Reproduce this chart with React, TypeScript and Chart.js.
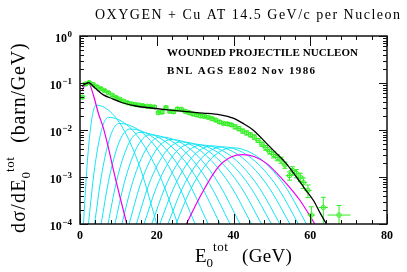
import React, { useEffect, useRef } from 'react';
import { Chart, registerables } from 'chart.js';

Chart.register(...registerables);

const SERIF = '"Liberation Serif", "Times New Roman", serif';
const GREEN = 'rgb(50,238,35)';
const CYAN = 'rgb(20,228,245)';
const MAGENTA = 'rgb(235,0,235)';
const AXIS = '#111';

const titleText = 'OXYGEN + Cu AT 14.5 GeV/c per Nucleon';
const legendLine1 = 'WOUNDED PROJECTILE NUCLEON';
const legendLine2 = 'BNL AGS E802 Nov 1986';
const xTickValues = [0, 20, 40, 60, 80];
const xMinorStep = 4;
const yTickExponents = [0, -1, -2, -3, -4];

// measured spectrum (E0tot in GeV, dσ/dE in barn/GeV)
const dataE = [
  0.6, 1.4, 2.4, 3.4, 4.4, 5.4, 6.4, 7.4, 8.4, 9.4, 10.4, 11.4, 12.4, 13.4, 14.4, 15.4,
  16.4, 17.4, 18.4, 19.4, 20.4, 21.4, 22.4, 23.4, 24.4, 25.4, 26.4, 27.4, 28.4, 29.4,
  30.4, 31.4, 32.4, 33.4, 34.4, 35.4, 36.4, 37.4, 38.4, 39.4, 40.4, 41.4, 42.4, 43.4,
  44.4, 45.4, 46.4, 47.4, 48.4, 49.4, 50.4, 51.4, 52.4, 53.4, 54.6, 55.4, 56.4, 57.4,
  58.2, 59.4, 60.3, 63.4, 67.5,
];
const dataSigma = [
  0.05, 0.095, 0.102, 0.093, 0.083, 0.076, 0.069, 0.062, 0.055, 0.049, 0.045, 0.041, 0.038,
  0.036, 0.035, 0.034, 0.033, 0.032, 0.0316, 0.0309, 0.0234, 0.024, 0.03, 0.025, 0.0245,
  0.028, 0.0275, 0.025, 0.0234, 0.0219, 0.0209, 0.02, 0.0195, 0.0186, 0.0174, 0.0162,
  0.0148, 0.0138, 0.0135, 0.0129, 0.0117, 0.0107, 0.0095, 0.0087, 0.0079, 0.0071, 0.006,
  0.005, 0.0042, 0.0035, 0.003, 0.0026, 0.0023, 0.0018, 0.00107, 0.00138, 0.0012, 0.001,
  0.00076, 0.00052, 0.000155, 0.000224, 0.000155,
];
const dataRelErr = [
  0.06, 0.06, 0.06, 0.06, 0.06, 0.06, 0.06, 0.06, 0.06, 0.06, 0.06, 0.06, 0.06, 0.06, 0.06,
  0.06, 0.06, 0.06, 0.06, 0.06, 0.07, 0.07, 0.07, 0.07, 0.07, 0.07, 0.07, 0.07, 0.07, 0.07,
  0.07, 0.07, 0.07, 0.07, 0.07, 0.07, 0.07, 0.07, 0.07, 0.07, 0.1, 0.1, 0.1, 0.1, 0.1, 0.1,
  0.1, 0.1, 0.12, 0.12, 0.15, 0.15, 0.15, 0.15, 0.2, 0.2, 0.2, 0.2, 0.25, 0.3, 0.5, 0.65, 0.6,
];
const dataEErr = [
  0.5, 0.5, 0.5, 0.5, 0.5, 0.5, 0.5, 0.5, 0.5, 0.5, 0.5, 0.5, 0.5, 0.5, 0.5, 0.5, 0.5, 0.5,
  0.5, 0.5, 0.5, 0.5, 0.5, 0.5, 0.5, 0.5, 0.5, 0.5, 0.5, 0.5, 0.5, 0.5, 0.5, 0.5, 0.5, 0.5,
  0.5, 0.5, 0.5, 0.5, 0.6, 0.6, 0.6, 0.6, 0.7, 0.7, 0.8, 0.8, 0.9, 0.9, 0.9, 0.9, 0.9, 0.9,
  1.0, 1.0, 1.0, 1.0, 1.0, 1.0, 1.0, 1.2, 3.0,
];

// total fit (black)
const totalE = [0.5, 2.2, 3.9, 6.1, 8.5, 11.0, 14.8, 19.1, 23.4, 27.8, 32.1, 36.5, 39.9, 42.5, 45.1, 48.6, 51.0, 53.6, 56.4, 58.6, 60.8, 62.6, 64.2];
const totalSigma = [0.085, 0.102, 0.078, 0.056, 0.046, 0.038, 0.032, 0.029, 0.0266, 0.0245, 0.0229, 0.0209, 0.0178, 0.0138, 0.01, 0.0052, 0.0033, 0.002, 0.001, 0.00056, 0.00032, 0.00017, 0.0001];

// one wounded nucleon (magenta) and sixteen (magenta)
const oneNucleonE = [0.5, 1.3, 2.2, 3.5, 4.8, 6.1, 7.4, 8.7, 10.4, 12.2];
const oneNucleonSigma = [0.068, 0.09, 0.1, 0.055, 0.0224, 0.011, 0.0042, 0.00141, 0.00038, 0.0001];
const sixteenNucleonE = [27.7, 31.7, 36.0, 39.5, 42.4, 45.5, 48.6, 52.9, 57.3, 61.2];
const sixteenNucleonSigma = [0.0001, 0.00044, 0.00162, 0.0027, 0.003, 0.0027, 0.00195, 0.00087, 0.00032, 0.0001];

// n = 2 ... 15 wounded nucleons (cyan)
const cyanE = [
  [0.9, 1.75, 2.55, 3.33, 4.2, 8.39, 12.1, 15.9, 20.0],
  [2.2, 3.54, 4.8, 6.02, 7.4, 12.2, 16.45, 20.83, 25.5],
  [3.8, 5.45, 7.0, 8.5, 10.2, 15.45, 20.1, 24.89, 30.0],
  [5.5, 7.43, 9.25, 11.0, 13.0, 18.41, 23.2, 28.14, 33.4],
  [7.3, 9.44, 11.45, 13.4, 15.6, 21.14, 26.05, 31.11, 36.5],
  [9.1, 11.47, 13.7, 15.86, 18.3, 23.81, 28.7, 33.73, 39.1],
  [10.9, 13.51, 15.95, 18.32, 21.0, 26.49, 31.35, 36.36, 41.7],
  [12.8, 15.61, 18.25, 20.81, 23.7, 29.27, 34.2, 39.28, 44.7],
  [14.7, 17.72, 20.55, 23.3, 26.4, 31.94, 36.85, 41.91, 47.3],
  [16.7, 19.87, 22.85, 25.74, 29.0, 34.54, 39.45, 44.51, 49.9],
  [18.7, 22.05, 25.2, 28.25, 31.7, 37.11, 41.9, 46.84, 52.1],
  [20.8, 24.31, 27.6, 30.8, 34.4, 39.78, 44.55, 49.46, 54.7],
  [22.9, 26.56, 30.0, 33.34, 37.1, 42.35, 47.0, 51.79, 56.9],
  [25.0, 28.79, 32.35, 35.8, 39.7, 44.81, 49.35, 54.02, 59.0],
];
const cyanSigma = [
  [1e-4, 1.38e-3, 7.9e-3, 2.24e-2, 3.39e-2, 2.24e-2, 7.9e-3, 1.38e-3, 1e-4],
  [1e-4, 1.05e-3, 5.0e-3, 1.29e-2, 1.86e-2, 1.29e-2, 5.0e-3, 1.05e-3, 1e-4],
  [1e-4, 9.1e-4, 4.0e-3, 9.8e-3, 1.38e-2, 9.8e-3, 4.0e-3, 9.1e-4, 1e-4],
  [1e-4, 8.1e-4, 3.27e-3, 7.6e-3, 1.05e-2, 7.6e-3, 3.27e-3, 8.1e-4, 1e-4],
  [1e-4, 7.6e-4, 2.9e-3, 6.5e-3, 8.9e-3, 6.5e-3, 2.9e-3, 7.6e-4, 1e-4],
  [1e-4, 7.2e-4, 2.66e-3, 5.85e-3, 7.9e-3, 5.85e-3, 2.66e-3, 7.2e-4, 1e-4],
  [1e-4, 6.8e-4, 2.45e-3, 5.25e-3, 7.1e-3, 5.25e-3, 2.45e-3, 6.8e-4, 1e-4],
  [1e-4, 6.5e-4, 2.24e-3, 4.7e-3, 6.3e-3, 4.7e-3, 2.24e-3, 6.5e-4, 1e-4],
  [1e-4, 6.2e-4, 2.04e-3, 4.25e-3, 5.6e-3, 4.25e-3, 2.04e-3, 6.2e-4, 1e-4],
  [1e-4, 5.9e-4, 1.91e-3, 3.9e-3, 5.1e-3, 3.9e-3, 1.91e-3, 5.9e-4, 1e-4],
  [1e-4, 5.7e-4, 1.82e-3, 3.65e-3, 4.8e-3, 3.65e-3, 1.82e-3, 5.7e-4, 1e-4],
  [1e-4, 5.6e-4, 1.76e-3, 3.5e-3, 4.6e-3, 3.5e-3, 1.76e-3, 5.6e-4, 1e-4],
  [1e-4, 5.5e-4, 1.7e-3, 3.35e-3, 4.4e-3, 3.35e-3, 1.7e-3, 5.5e-4, 1e-4],
  [1e-4, 5.4e-4, 1.64e-3, 3.2e-3, 4.2e-3, 3.2e-3, 1.64e-3, 5.4e-4, 1e-4],
];

const DATA_INDEX = 1;

function toXY(xs: number[], ys: number[]) {
  return xs.map((x, i) => ({ x, y: ys[i] }));
}

// draw text starting at x so that it spans `width` pixels (letter spacing adjusted)
function drawFit(ctx: any, text: string, x: number, width: number, y: number, font: string) {
  ctx.font = font;
  ctx.textAlign = 'left';
  ctx.textBaseline = 'alphabetic';
  ctx.letterSpacing = '0px';
  const w = ctx.measureText(text).width;
  const n = Math.max(1, text.length - 1);
  const ls = (width - w) / n;
  ctx.letterSpacing = `${ls}px`;
  ctx.fillText(text, x, y);
  ctx.letterSpacing = '0px';
}

// draw text with natural spacing plus `ls` px, return the advance
function drawRun(ctx: any, text: string, x: number, y: number, font: string, ls = 0) {
  ctx.font = font;
  ctx.textAlign = 'left';
  ctx.textBaseline = 'alphabetic';
  ctx.letterSpacing = `${ls}px`;
  ctx.fillText(text, x, y);
  const w = ctx.measureText(text).width;
  ctx.letterSpacing = '0px';
  return w;
}

const decorPlugin = {
  id: 'decor',
  beforeDatasetDraw(chart: any, args: any) {
    if (args.index !== DATA_INDEX) return;
    const ctx: CanvasRenderingContext2D = chart.ctx;
    const xs = chart.scales.x;
    const ys = chart.scales.y;
    const a = chart.chartArea;
    ctx.save();
    ctx.beginPath();
    ctx.rect(a.left, a.top, a.right - a.left, a.bottom - a.top);
    ctx.clip();
    ctx.strokeStyle = GREEN;
    ctx.lineWidth = 1;
    for (let i = 0; i < dataE.length; i++) {
      const v = dataSigma[i];
      const err = v * dataRelErr[i];
      const px = xs.getPixelForValue(dataE[i]);
      const py = ys.getPixelForValue(v);
      const pHi = ys.getPixelForValue(v + err);
      const lo = v - err;
      const pLo = lo > 0 ? ys.getPixelForValue(lo) : a.bottom + 5;
      const pxL = xs.getPixelForValue(dataE[i] - dataEErr[i]);
      const pxR = xs.getPixelForValue(dataE[i] + dataEErr[i]);
      ctx.beginPath();
      ctx.moveTo(pxL, py);
      ctx.lineTo(pxR, py);
      ctx.moveTo(px, pHi);
      ctx.lineTo(px, pLo);
      ctx.moveTo(px - 2.5, pHi);
      ctx.lineTo(px + 2.5, pHi);
      ctx.moveTo(px - 2.5, pLo);
      ctx.lineTo(px + 2.5, pLo);
      ctx.stroke();
    }
    ctx.restore();
  },
  afterDraw(chart: any) {
    const ctx: any = chart.ctx;
    const xs = chart.scales.x;
    const ys = chart.scales.y;
    const a = chart.chartArea;
    ctx.save();
    // frame
    ctx.strokeStyle = AXIS;
    ctx.lineWidth = 1.5;
    ctx.strokeRect(a.left, a.top, a.right - a.left, a.bottom - a.top);
    // x ticks
    ctx.lineWidth = 1;
    ctx.beginPath();
    for (let v = xs.min; v <= xs.max + 1e-9; v += xMinorStep) {
      const px = Math.round(xs.getPixelForValue(v)) + 0.5;
      const major = xTickValues.includes(v);
      const len = major ? 10 : 4;
      ctx.moveTo(px, a.bottom);
      ctx.lineTo(px, a.bottom - len);
      ctx.moveTo(px, a.top);
      ctx.lineTo(px, a.top + len);
    }
    // y ticks
    for (let e = -4; e <= 0; e++) {
      for (let m = 1; m <= 9; m++) {
        if (e === 0 && m > 1) break;
        const py = Math.round(ys.getPixelForValue(m * Math.pow(10, e))) + 0.5;
        const len = m === 1 ? 8 : 4;
        ctx.moveTo(a.left, py);
        ctx.lineTo(a.left + len, py);
        ctx.moveTo(a.right, py);
        ctx.lineTo(a.right - len, py);
      }
    }
    ctx.stroke();

    ctx.fillStyle = '#000';
    // x tick labels
    ctx.font = `bold 12px ${SERIF}`;
    ctx.textAlign = 'center';
    ctx.textBaseline = 'alphabetic';
    for (const v of xTickValues) {
      ctx.fillText(String(v), xs.getPixelForValue(v), a.bottom + 15);
    }
    // y tick labels 10^e
    for (const e of yTickExponents) {
      const py = ys.getPixelForValue(Math.pow(10, e));
      const expText = e === 0 ? '0' : '\u2212' + String(-e);
      ctx.font = `bold 9px ${SERIF}`;
      ctx.textAlign = 'right';
      const rx = a.left - 8;
      ctx.fillText(expText, rx, py + 1);
      const ew = ctx.measureText(expText).width;
      ctx.font = `bold 12px ${SERIF}`;
      ctx.fillText('10', rx - ew - 0.5, py + 6);
    }

    // title
    drawFit(ctx, titleText, 95, 305, 19, `14px ${SERIF}`);
    // legend text
    drawFit(ctx, legendLine1, 167, 191, 56, `bold 11px ${SERIF}`);
    drawFit(ctx, legendLine2, 167, 148, 74, `bold 11px ${SERIF}`);

    // x axis title: E0^tot (GeV)
    let cx = 195;
    cx += drawRun(ctx, 'E', cx, 262, `19px ${SERIF}`);
    const w0 = drawRun(ctx, '0', cx, 267, `13px ${SERIF}`);
    drawRun(ctx, 'tot', cx + w0, 251, `13px ${SERIF}`, 0.5);
    drawRun(ctx, '(GeV)', 242, 262, `19px ${SERIF}`, 0.3);

    // y axis title (rotated), positions measured from bottom end
    ctx.translate(25, 233);
    ctx.rotate(-Math.PI / 2);
    let t = 0;
    t += drawRun(ctx, 'd\u03c3/dE', t, 0, `20px ${SERIF}`, 1.2);
    const yw0 = drawRun(ctx, '0', t, 5, `13px ${SERIF}`);
    t += yw0;
    t += drawRun(ctx, 'tot', t, -11, `13px ${SERIF}`, 0.5);
    drawRun(ctx, '(barn/GeV)', t + 14, 0, `20px ${SERIF}`, 0.8);
    ctx.restore();
  },
};

export default function App() {
  const ref = useRef<HTMLCanvasElement>(null);
  useEffect(() => {
    document.body.style.margin = '0';
    const canvas = ref.current;
    if (!canvas) return;
    const curve = (xs: number[], ys: number[], color: string, width: number, order: number, label: string) => ({
      label,
      data: toXY(xs, ys),
      showLine: true,
      borderColor: color,
      backgroundColor: color,
      borderWidth: width,
      pointRadius: 0,
      cubicInterpolationMode: 'monotone' as const,
      fill: false,
      order,
    });
    const datasets: any[] = [
      curve(totalE, totalSigma, '#000', 1.3, 0, 'total'),
      {
        label: 'data',
        data: toXY(dataE, dataSigma),
        showLine: false,
        pointStyle: 'circle',
        pointRadius: 2.2,
        pointBorderWidth: 1,
        borderColor: GREEN,
        backgroundColor: 'rgba(255,255,255,0)',
        order: 1,
      },
      curve(oneNucleonE, oneNucleonSigma, MAGENTA, 1.2, 2, 'n=1'),
      curve(sixteenNucleonE, sixteenNucleonSigma, MAGENTA, 1.2, 2, 'n=16'),
    ];
    cyanE.forEach((xs, i) => {
      datasets.push(curve(xs, cyanSigma[i], CYAN, 1, 3, `n=${i + 2}`));
    });
    const chart = new Chart(canvas, {
      type: 'scatter',
      data: { datasets },
      options: {
        responsive: false,
        animation: false,
        devicePixelRatio: 1,
        events: [],
        layout: { padding: { left: 80, right: 20, top: 36, bottom: 48 } },
        plugins: { legend: { display: false }, tooltip: { enabled: false }, title: { display: false } },
        scales: {
          x: { type: 'linear', min: 0, max: 80, display: false },
          y: { type: 'logarithmic', min: 1e-4, max: 1, display: false },
        },
      },
      plugins: [decorPlugin],
    });
    return () => chart.destroy();
  }, []);
  return <canvas ref={ref} width={407} height={272} style={{ display: 'block' }} />;
}
